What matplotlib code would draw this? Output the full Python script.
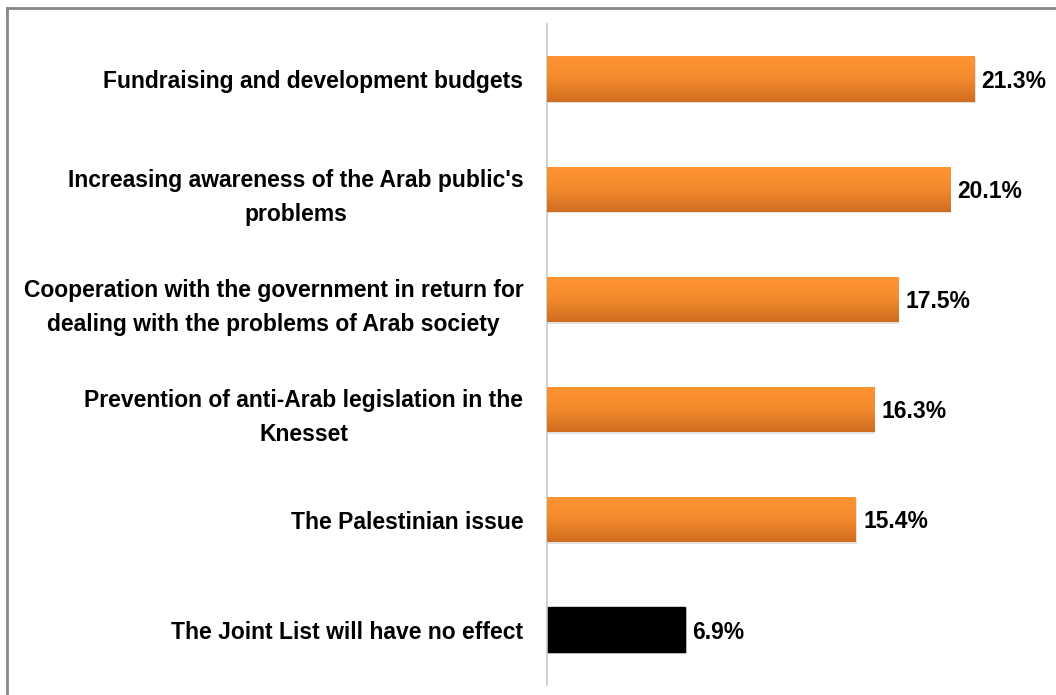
import matplotlib.pyplot as plt
import numpy as np
from matplotlib.colors import LinearSegmentedColormap

# values (top to bottom)
categories = [
    "Fundraising and development budgets",
    "Increasing awareness of the Arab public's\nproblems",
    "Cooperation with the government in return for\ndealing with the problems of Arab society",
    "Prevention of anti-Arab legislation in the\nKnesset",
    "The Palestinian issue",
    "The Joint List will have no effect",
]
values = [21.3, 20.1, 17.5, 16.3, 15.4, 6.9]
is_black = [False, False, False, False, False, True]

plt.rcParams["font.family"] = ["Liberation Sans"]

fig = plt.figure(figsize=(10.56, 6.95), dpi=100)
ax = fig.add_axes([0.518, 0.0144, 0.475, 0.9511])

y = np.arange(len(categories))
bars = ax.barh(y, values, height=0.41, color="#F0852A", edgecolor="none", zorder=2)

orange = LinearSegmentedColormap.from_list("orange", ["#FF9432", "#F28A2D", "#D06D1F"])
grad = np.linspace(0, 1, 64).reshape(-1, 1)
for bar, v, black in zip(bars, values, is_black):
    x0, y0 = bar.get_x(), bar.get_y()
    w, h = bar.get_width(), bar.get_height()
    # soft shadow
    ax.add_patch(plt.Rectangle((x0, y0 + 0.015), w + 0.06, h, color="#E2E2E2",
                               zorder=1, lw=0))
    if black:
        bar.set_color("black")
    else:
        im = ax.imshow(grad, cmap=orange, aspect="auto",
                       extent=(x0, x0 + w, y0 + h, y0), zorder=3)
        im.set_clip_path(bar)
    ax.text(v + 0.35, bar.get_y() + h / 2 + 0.02, f"{v}%", va="center", ha="left",
            fontsize=16.5, fontweight="bold", zorder=4)

ax.set_xlim(0, 25)
ax.set_ylim(len(categories) - 0.5, -0.5)
ax.set_yticks(y)
ax.set_yticklabels(categories, fontsize=16.5, fontweight="bold", multialignment="center",
                   linespacing=1.6)
ax.tick_params(axis="y", length=0, pad=17)
ax.set_xticks([])
for side in ["top", "right", "bottom"]:
    ax.spines[side].set_visible(False)
ax.spines["left"].set_color("#C8C8C8")
ax.spines["left"].set_linewidth(1.2)

# frame on top and left of the picture (the rest is cropped off)
fig.add_artist(plt.Line2D([0.0066, 1.0], [0.9885, 0.9885], color="#888888", lw=2,
                          transform=fig.transFigure))
fig.add_artist(plt.Line2D([0.0066, 0.0066], [0.0, 0.9885], color="#888888", lw=2,
                          transform=fig.transFigure))

fig.savefig("out.png", dpi=100)
